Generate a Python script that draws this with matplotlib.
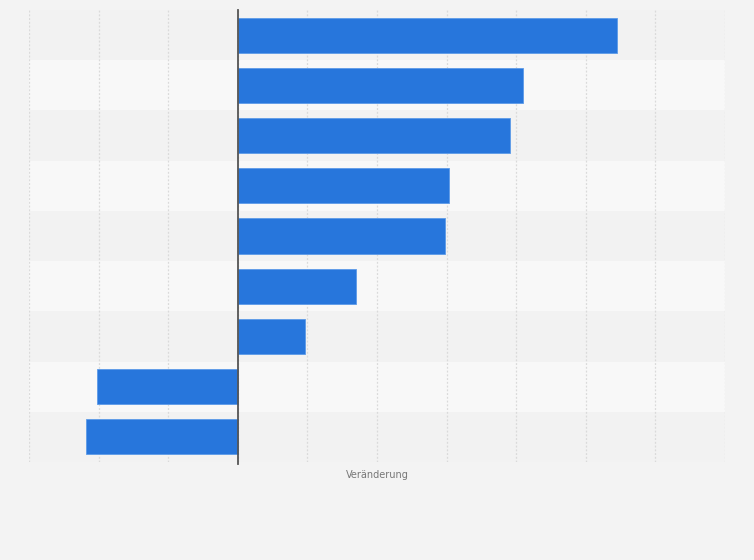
import matplotlib.pyplot as plt

# Werte (ohne Achsenbeschriftung im Original, Einheiten geschätzt)
kategorien = ['A', 'B', 'C', 'D', 'E', 'F', 'G', 'H', 'I']
veraenderung = [5.45, 4.10, 3.91, 3.04, 2.98, 1.70, 0.97, -2.02, -2.19]

fig = plt.figure(figsize=(7.54, 5.6), dpi=100)
fig.patch.set_facecolor('#f3f3f3')
ax = fig.add_axes([29.2 / 754, 1 - 462 / 560, 695.5 / 754, 452 / 560])
ax.set_facecolor('#f3f3f3')

n = len(kategorien)
pos = list(range(n))

# abwechselnde Zeilenhintergründe
for i in pos:
    ax.axhspan(i - 0.5, i + 0.5, color='#f2f2f2' if i % 2 == 0 else '#f8f8f8', zorder=0, lw=0)

ax.barh(pos, veraenderung, height=0.7, color='#2776dc', zorder=3,
        edgecolor='#5c9ae8', linewidth=0.6)

ax.set_xlim(-3, 7)
ax.set_ylim(n - 0.5, -0.5)
ax.set_xticks(range(-3, 8))
ax.grid(axis='x', color='#dadada', linestyle=(0, (1.5, 1.5)), linewidth=0.9, zorder=1)
ax.axvline(0, color='#555555', linewidth=1.3, zorder=4, ymin=-0.004, clip_on=False)

ax.set_yticks([])
ax.tick_params(axis='x', length=0, labelbottom=False)
for s in ax.spines.values():
    s.set_visible(False)

ax.set_xlabel('Veränderung', fontsize=7, color='#777777', labelpad=6)

fig.savefig('out.png', dpi=100, facecolor=fig.get_facecolor())
